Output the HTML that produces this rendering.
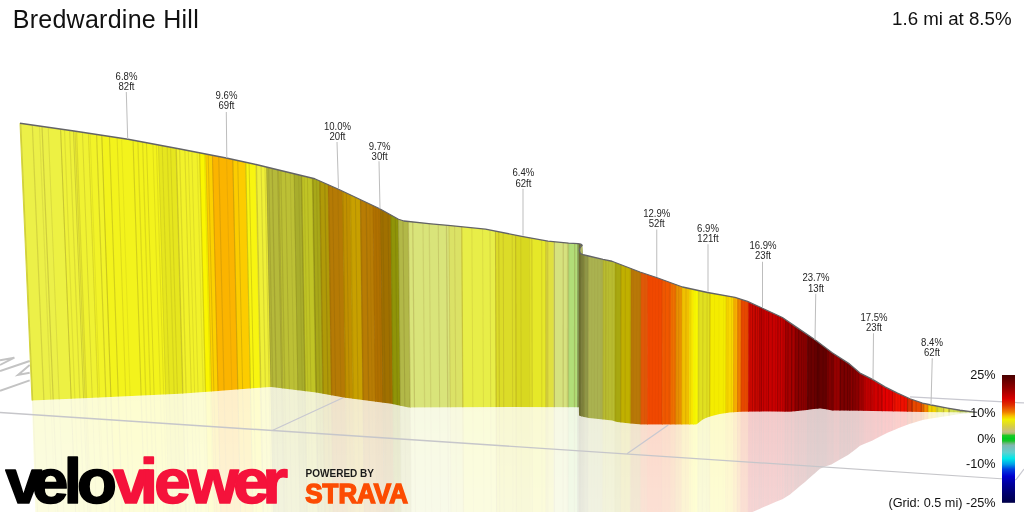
<!DOCTYPE html>
<html lang="en"><head><meta charset="utf-8"><title>Bredwardine Hill</title>
<style>
html,body{margin:0;padding:0;background:#fff;}
body{width:1024px;height:512px;overflow:hidden;font-family:"Liberation Sans",sans-serif;}
svg{display:block;}
text{font-family:"Liberation Sans",sans-serif;}
.lab{font-size:10.3px;fill:#262626;text-anchor:middle;}
.leg{font-size:12.7px;fill:#111;text-anchor:end;}
</style></head><body>
<svg width="1024" height="512" viewBox="0 0 1024 512">
<defs>
<clipPath id="cp"><polygon points="20.00,123.25 74.00,131.00 128.00,139.25 180.00,149.00 226.25,158.00 256.00,164.50 314.75,178.75 338.50,189.25 379.75,208.75 398.50,219.25 404.00,221.00 431.00,223.80 448.00,225.30 485.50,229.20 523.00,236.60 548.00,241.20 568.60,243.10 578.00,243.60 581.00,244.20 582.20,245.20 582.80,254.50 583.00,254.60 588.60,256.00 603.00,259.40 612.00,261.25 640.00,272.00 656.50,277.50 682.50,287.00 707.50,292.50 735.00,297.30 747.50,301.40 762.00,308.00 782.40,317.50 796.00,326.90 815.00,339.80 832.20,352.70 849.40,363.90 860.00,373.10 872.50,379.40 885.00,386.90 897.50,393.10 910.00,398.75 922.50,403.10 931.25,405.00 947.50,408.10 960.00,410.25 972.50,411.90 977.00,412.40 977.00,412.40 922.00,411.90 860.00,410.80 832.00,410.40 826.00,409.30 820.00,408.40 814.00,409.00 805.00,410.20 790.00,411.70 768.00,411.50 741.00,411.70 730.00,412.60 720.00,414.10 710.00,416.60 706.00,418.00 702.50,419.75 699.00,422.60 696.30,424.50 642.00,424.50 630.00,423.60 617.00,422.00 612.00,420.40 603.00,419.50 588.60,418.00 583.00,416.70 581.00,416.20 579.00,415.40 578.90,407.30 512.00,407.00 408.50,407.50 391.00,403.75 343.50,397.50 316.00,392.50 271.00,387.00 256.00,388.00 215.00,391.25 180.00,393.75 100.00,397.50 32.00,400.50"/></clipPath>
<clipPath id="cr"><polygon points="32.00,400.50 100.00,397.50 180.00,393.75 215.00,391.25 256.00,388.00 271.00,387.00 316.00,392.50 343.50,397.50 391.00,403.75 408.50,407.50 512.00,407.00 578.90,407.30 579.00,415.40 581.00,416.20 583.00,416.70 588.60,418.00 603.00,419.50 612.00,420.40 617.00,422.00 630.00,423.60 642.00,424.50 696.30,424.50 699.00,422.60 702.50,419.75 706.00,418.00 710.00,416.60 720.00,414.10 730.00,412.60 741.00,411.70 768.00,411.50 790.00,411.70 805.00,410.20 814.00,409.00 820.00,408.40 826.00,409.30 832.00,410.40 860.00,410.80 922.00,411.90 977.00,412.40 977.00,412.40 976.00,412.49 972.50,412.79 968.00,413.26 960.00,414.10 952.00,415.24 947.50,415.88 944.00,416.44 936.00,417.72 931.25,418.48 928.00,419.08 922.50,420.09 922.00,420.25 920.00,420.82 912.00,423.14 910.00,423.72 904.00,426.04 897.50,428.55 896.00,429.19 888.00,432.60 885.00,433.88 880.00,436.50 872.50,440.43 872.00,440.65 864.00,444.12 860.00,445.86 856.00,448.98 849.40,454.12 848.00,454.93 840.00,459.56 832.20,464.07 832.00,464.20 826.00,466.26 824.00,467.08 820.00,468.71 816.00,472.27 815.00,473.16 814.00,473.99 808.00,479.32 805.00,481.99 800.00,486.11 796.00,489.41 792.00,492.75 790.00,494.42 784.00,498.17 782.40,499.17 776.00,501.83 768.00,505.16 762.00,507.84 760.00,508.72 752.00,512.22 747.50,514.19 744.00,515.30 741.00,516.26 736.00,518.58 735.00,519.04 730.00,520.64 728.00,521.54 720.00,525.16 712.00,530.32 710.00,531.61 707.50,533.70 706.00,535.02 704.00,537.36 702.50,539.12 699.00,545.33 696.30,549.55 696.00,549.61 688.00,551.25 682.50,552.38 680.00,553.22 672.00,555.94 664.00,558.66 656.50,561.21 656.00,561.37 648.00,563.85 642.00,565.70 640.00,566.04 632.00,567.73 630.00,568.16 624.00,568.88 617.00,569.71 616.00,569.45 612.00,568.41 608.00,568.40 603.00,568.39 600.00,568.45 592.00,568.60 588.60,568.66 584.00,567.67 583.00,567.45 581.50,567.29 581.00,567.86 579.50,569.14 579.40,575.11 579.00,574.91 578.90,559.30 578.00,559.53 576.00,559.61 568.60,559.92 568.00,559.96 560.00,560.58 552.00,561.20 548.00,561.51 544.00,562.16 536.00,563.46 528.00,564.75 523.00,565.57 520.00,566.09 512.00,567.49 504.00,569.03 496.00,570.58 488.00,572.12 485.50,572.60 480.00,573.18 472.00,574.03 464.00,574.88 456.00,575.73 448.00,576.58 440.00,577.31 432.00,578.04 431.00,578.13 424.00,578.87 416.00,579.72 408.50,580.51 408.00,580.35 404.00,579.08 400.00,578.61 398.50,578.44 392.00,579.13 391.00,579.24 384.00,581.11 379.75,582.24 376.00,582.94 368.00,584.42 360.00,585.91 352.00,587.40 344.00,588.88 343.50,588.97 338.50,589.42 336.00,589.57 328.00,590.05 320.00,590.53 316.00,590.77 314.75,590.99 312.00,590.96 304.00,590.88 296.00,590.80 288.00,590.72 280.00,590.63 272.00,590.55 271.00,590.54 264.00,593.02 256.00,595.86 248.00,598.70 240.00,601.55 232.00,604.40 226.25,606.45 224.00,607.20 216.00,609.87 215.00,610.21 208.00,612.44 200.00,614.99 192.00,617.54 184.00,620.09 180.00,621.37 176.00,622.43 168.00,624.55 160.00,626.66 152.00,628.78 144.00,630.90 136.00,633.02 128.00,635.14 120.00,637.00 112.00,638.86 104.00,640.72 100.00,641.65 96.00,642.56 88.00,644.38 80.00,646.20 74.00,647.56 72.00,648.00 64.00,649.75 56.00,651.49 48.00,653.24 40.00,654.99 40.33,678.00"/></clipPath>
<linearGradient id="lg" x1="0" y1="0" x2="0" y2="1">
<stop offset="0" stop-color="#480000"/>
<stop offset="0.10" stop-color="#900000"/>
<stop offset="0.186" stop-color="#d80000"/>
<stop offset="0.235" stop-color="#e03000"/>
<stop offset="0.291" stop-color="#f08000"/>
<stop offset="0.32" stop-color="#f8c000"/>
<stop offset="0.348" stop-color="#f0f000"/>
<stop offset="0.40" stop-color="#d8d040"/>
<stop offset="0.445" stop-color="#c4bc88"/>
<stop offset="0.46" stop-color="#a0c060"/>
<stop offset="0.472" stop-color="#20c828"/>
<stop offset="0.497" stop-color="#00cc20"/>
<stop offset="0.516" stop-color="#18c428"/>
<stop offset="0.532" stop-color="#60b870"/>
<stop offset="0.55" stop-color="#80b8b0"/>
<stop offset="0.605" stop-color="#60d0d0"/>
<stop offset="0.654" stop-color="#00e8e8"/>
<stop offset="0.698" stop-color="#00a0e8"/>
<stop offset="0.737" stop-color="#0040e0"/>
<stop offset="0.792" stop-color="#0000d0"/>
<stop offset="0.847" stop-color="#0000a0"/>
<stop offset="0.923" stop-color="#000070"/>
<stop offset="1" stop-color="#000048"/>
</linearGradient>
<linearGradient id="fade" x1="0" y1="400" x2="0" y2="512" gradientUnits="userSpaceOnUse">
<stop offset="0" stop-color="#fff" stop-opacity="0.21"/>
<stop offset="1" stop-color="#fff" stop-opacity="0.17"/>
</linearGradient>
<mask id="mk" maskUnits="userSpaceOnUse" x="0" y="380" width="1024" height="140"><rect x="0" y="380" width="1024" height="140" fill="url(#fade)"/></mask>
<g id="bands">
<polygon points="7.71,100.00 47.41,100.00 64.35,520.00 26.36,520.00" fill="#ecf048"/>
<polygon points="46.80,100.00 59.76,100.00 76.16,520.00 63.76,520.00" fill="#edf143"/>
<polygon points="59.14,100.00 74.15,100.00 89.94,520.00 75.57,520.00" fill="#eff23a"/>
<polygon points="73.54,100.00 87.52,100.00 102.73,520.00 89.35,520.00" fill="#f0f232"/>
<polygon points="86.91,100.00 100.89,100.00 115.53,520.00 102.14,520.00" fill="#f2f328"/>
<polygon points="100.28,100.00 157.46,100.00 169.66,520.00 114.94,520.00" fill="#f3f31c"/>
<polygon points="156.84,100.00 174.94,100.00 186.39,520.00 169.07,520.00" fill="#e6e61e"/>
<polygon points="174.32,100.00 198.60,100.00 209.02,520.00 185.80,520.00" fill="#f2f22a"/>
<polygon points="197.98,100.00 204.77,100.00 214.93,520.00 208.43,520.00" fill="#fbf600"/>
<polygon points="204.15,100.00 211.45,100.00 221.33,520.00 214.34,520.00" fill="#fcd000"/>
<polygon points="210.83,100.00 231.92,100.00 241.07,520.00 220.74,520.00" fill="#fbb400"/>
<polygon points="231.30,100.00 244.71,100.00 253.41,520.00 240.48,520.00" fill="#fccc00"/>
<polygon points="244.09,100.00 254.94,100.00 263.28,520.00 252.81,520.00" fill="#f8f510"/>
<polygon points="254.33,100.00 265.68,100.00 273.64,520.00 262.68,520.00" fill="#eff038"/>
<polygon points="265.07,100.00 277.90,100.00 285.52,520.00 273.05,520.00" fill="#b5b93a"/>
<polygon points="277.29,100.00 293.16,100.00 300.38,520.00 284.93,520.00" fill="#bcc035"/>
<polygon points="292.55,100.00 300.79,100.00 307.80,520.00 299.78,520.00" fill="#a8ad2c"/>
<polygon points="300.18,100.00 311.99,100.00 318.69,520.00 307.21,520.00" fill="#c0c425"/>
<polygon points="311.38,100.00 318.60,100.00 325.13,520.00 318.10,520.00" fill="#a8a818"/>
<polygon points="317.99,100.00 327.26,100.00 333.55,520.00 324.54,520.00" fill="#b09a08"/>
<polygon points="326.64,100.00 341.50,100.00 347.41,520.00 332.95,520.00" fill="#b57a05"/>
<polygon points="340.89,100.00 349.14,100.00 354.84,520.00 346.82,520.00" fill="#c09000"/>
<polygon points="348.53,100.00 359.31,100.00 364.74,520.00 354.24,520.00" fill="#c8a000"/>
<polygon points="358.70,100.00 372.03,100.00 377.11,520.00 364.14,520.00" fill="#b87c04"/>
<polygon points="371.42,100.00 379.67,100.00 384.54,520.00 376.52,520.00" fill="#b07000"/>
<polygon points="379.06,100.00 389.84,100.00 394.44,520.00 383.95,520.00" fill="#a07000"/>
<polygon points="389.23,100.00 397.48,100.00 401.87,520.00 393.85,520.00" fill="#8f9408"/>
<polygon points="396.87,100.00 407.67,100.00 411.76,520.00 401.27,520.00" fill="#b2b848"/>
<polygon points="407.06,100.00 448.40,100.00 451.35,520.00 411.17,520.00" fill="#d9e47a"/>
<polygon points="447.79,100.00 461.13,100.00 463.73,520.00 450.76,520.00" fill="#dbe266"/>
<polygon points="460.52,100.00 495.25,100.00 496.88,520.00 463.13,520.00" fill="#e8ee48"/>
<polygon points="494.64,100.00 515.62,100.00 516.68,520.00 496.29,520.00" fill="#dcdc28"/>
<polygon points="515.01,100.00 529.88,100.00 530.54,520.00 516.08,520.00" fill="#d8d820"/>
<polygon points="529.26,100.00 546.17,100.00 546.37,520.00 529.94,520.00" fill="#e6e828"/>
<polygon points="545.56,100.00 554.32,100.00 554.29,520.00 545.78,520.00" fill="#e0e040"/>
<polygon points="553.71,100.00 569.07,100.00 568.65,520.00 553.70,520.00" fill="#d6e27e"/>
<polygon points="568.47,100.00 578.10,100.00 577.63,520.00 568.05,520.00" fill="#b2de78"/>
<polygon points="577.50,100.00 579.60,100.00 579.13,520.00 577.03,520.00" fill="#88a860"/>
<polygon points="579.00,100.00 582.11,100.00 581.63,520.00 578.53,520.00" fill="#707434"/>
<polygon points="581.51,100.00 584.62,100.00 584.12,520.00 581.03,520.00" fill="#7c803a"/>
<polygon points="584.02,100.00 589.13,100.00 588.62,520.00 583.52,520.00" fill="#909848"/>
<polygon points="588.53,100.00 603.67,100.00 603.09,520.00 588.02,520.00" fill="#aab250"/>
<polygon points="603.07,100.00 615.71,100.00 615.07,520.00 602.49,520.00" fill="#b8bc30"/>
<polygon points="615.11,100.00 621.73,100.00 621.06,520.00 614.47,520.00" fill="#a8a810"/>
<polygon points="621.13,100.00 631.76,100.00 631.05,520.00 620.46,520.00" fill="#c0b000"/>
<polygon points="631.16,100.00 641.79,100.00 641.03,520.00 630.45,520.00" fill="#b87808"/>
<polygon points="641.19,100.00 648.31,100.00 647.52,520.00 640.43,520.00" fill="#e05808"/>
<polygon points="647.70,100.00 663.35,100.00 662.49,520.00 646.92,520.00" fill="#f04800"/>
<polygon points="662.75,100.00 671.88,100.00 670.98,520.00 661.89,520.00" fill="#f05800"/>
<polygon points="671.27,100.00 676.89,100.00 675.97,520.00 670.38,520.00" fill="#f07000"/>
<polygon points="676.29,100.00 682.91,100.00 681.96,520.00 675.37,520.00" fill="#e89000"/>
<polygon points="682.31,100.00 690.43,100.00 689.45,520.00 681.36,520.00" fill="#f0c000"/>
<polygon points="689.83,100.00 694.44,100.00 693.44,520.00 688.85,520.00" fill="#f8e800"/>
<polygon points="693.84,100.00 698.96,100.00 697.94,520.00 692.84,520.00" fill="#f8f800"/>
<polygon points="698.35,100.00 710.99,100.00 709.92,520.00 697.34,520.00" fill="#e0e020"/>
<polygon points="710.39,100.00 727.04,100.00 725.89,520.00 709.32,520.00" fill="#f4ec00"/>
<polygon points="726.44,100.00 734.56,100.00 733.38,520.00 725.29,520.00" fill="#f8d800"/>
<polygon points="733.96,100.00 738.57,100.00 737.37,520.00 732.78,520.00" fill="#f8b000"/>
<polygon points="737.97,100.00 742.08,100.00 740.86,520.00 736.77,520.00" fill="#f08000"/>
<polygon points="741.48,100.00 749.61,100.00 748.35,520.00 740.27,520.00" fill="#e84800"/>
<polygon points="749.00,100.00 761.13,100.00 759.84,520.00 747.75,520.00" fill="#d00800"/>
<polygon points="760.53,100.00 786.19,100.00 784.81,520.00 759.24,520.00" fill="#c80000"/>
<polygon points="785.58,100.00 796.21,100.00 794.80,520.00 784.21,520.00" fill="#a80000"/>
<polygon points="795.61,100.00 808.73,100.00 807.28,520.00 794.20,520.00" fill="#8c0000"/>
<polygon points="808.13,100.00 819.26,100.00 817.77,520.00 806.68,520.00" fill="#6c0000"/>
<polygon points="818.66,100.00 828.28,100.00 826.76,520.00 817.17,520.00" fill="#640000"/>
<polygon points="827.68,100.00 834.29,100.00 832.75,520.00 826.16,520.00" fill="#800000"/>
<polygon points="833.69,100.00 841.31,100.00 839.74,520.00 832.15,520.00" fill="#960000"/>
<polygon points="840.70,100.00 851.33,100.00 849.73,520.00 839.14,520.00" fill="#7c0000"/>
<polygon points="850.73,100.00 860.35,100.00 858.72,520.00 849.13,520.00" fill="#8a0000"/>
<polygon points="859.74,100.00 865.36,100.00 863.71,520.00 858.12,520.00" fill="#a00000"/>
<polygon points="864.76,100.00 873.88,100.00 872.20,520.00 863.11,520.00" fill="#c00000"/>
<polygon points="873.27,100.00 883.90,100.00 882.19,520.00 871.60,520.00" fill="#d00000"/>
<polygon points="883.30,100.00 895.17,100.00 893.43,520.00 881.59,520.00" fill="#e40000"/>
<polygon points="894.57,100.00 908.95,100.00 907.16,520.00 892.83,520.00" fill="#f01000"/>
<polygon points="908.35,100.00 913.96,100.00 912.15,520.00 906.56,520.00" fill="#d83000"/>
<polygon points="913.36,100.00 922.98,100.00 921.14,520.00 911.56,520.00" fill="#e84800"/>
<polygon points="922.38,100.00 925.49,100.00 923.64,520.00 920.54,520.00" fill="#e86000"/>
<polygon points="924.89,100.00 930.00,100.00 928.14,520.00 923.04,520.00" fill="#f88800"/>
<polygon points="929.39,100.00 938.01,100.00 936.13,520.00 927.54,520.00" fill="#f0d000"/>
<polygon points="937.41,100.00 944.03,100.00 942.12,520.00 935.53,520.00" fill="#d8dc30"/>
<polygon points="943.43,100.00 950.54,100.00 948.61,520.00 941.52,520.00" fill="#e8e840"/>
<polygon points="949.94,100.00 961.81,100.00 959.85,520.00 948.01,520.00" fill="#d0dc50"/>
<polygon points="961.21,100.00 991.63,100.00 989.56,520.00 959.25,520.00" fill="#b4c850"/>
<line x1="19.76" y1="100.0" x2="37.88" y2="520.0" stroke="#6a5a20" stroke-opacity="0.22" stroke-width="1.04"/>
<line x1="31.29" y1="100.0" x2="48.92" y2="520.0" stroke="#6a5a20" stroke-opacity="0.19" stroke-width="1.20"/>
<line x1="38.37" y1="100.0" x2="55.69" y2="520.0" stroke="#6a5a20" stroke-opacity="0.11" stroke-width="1.13"/>
<line x1="40.93" y1="100.0" x2="58.14" y2="520.0" stroke="#6a5a20" stroke-opacity="0.23" stroke-width="1.19"/>
<line x1="59.49" y1="100.0" x2="75.90" y2="520.0" stroke="#6a5a20" stroke-opacity="0.21" stroke-width="1.04"/>
<line x1="63.33" y1="100.0" x2="79.58" y2="520.0" stroke="#6a5a20" stroke-opacity="0.12" stroke-width="1.19"/>
<line x1="68.46" y1="100.0" x2="84.49" y2="520.0" stroke="#6a5a20" stroke-opacity="0.15" stroke-width="1.20"/>
<line x1="72.30" y1="100.0" x2="88.17" y2="520.0" stroke="#6a5a20" stroke-opacity="0.24" stroke-width="1.00"/>
<line x1="75.38" y1="100.0" x2="91.11" y2="520.0" stroke="#6a5a20" stroke-opacity="0.16" stroke-width="1.27"/>
<line x1="81.27" y1="100.0" x2="96.75" y2="520.0" stroke="#6a5a20" stroke-opacity="0.20" stroke-width="0.89"/>
<line x1="88.96" y1="100.0" x2="104.11" y2="520.0" stroke="#6a5a20" stroke-opacity="0.12" stroke-width="0.88"/>
<line x1="95.37" y1="100.0" x2="110.24" y2="520.0" stroke="#6a5a20" stroke-opacity="0.23" stroke-width="1.20"/>
<line x1="100.50" y1="100.0" x2="115.15" y2="520.0" stroke="#6a5a20" stroke-opacity="0.12" stroke-width="1.21"/>
<line x1="108.19" y1="100.0" x2="122.50" y2="520.0" stroke="#6a5a20" stroke-opacity="0.24" stroke-width="1.13"/>
<line x1="115.87" y1="100.0" x2="129.86" y2="520.0" stroke="#6a5a20" stroke-opacity="0.15" stroke-width="1.07"/>
<line x1="120.39" y1="100.0" x2="134.18" y2="520.0" stroke="#6a5a20" stroke-opacity="0.12" stroke-width="0.81"/>
<line x1="131.77" y1="100.0" x2="145.07" y2="520.0" stroke="#6a5a20" stroke-opacity="0.24" stroke-width="1.12"/>
<line x1="136.58" y1="100.0" x2="149.68" y2="520.0" stroke="#6a5a20" stroke-opacity="0.17" stroke-width="1.27"/>
<line x1="141.33" y1="100.0" x2="154.22" y2="520.0" stroke="#6a5a20" stroke-opacity="0.16" stroke-width="1.24"/>
<line x1="145.19" y1="100.0" x2="157.92" y2="520.0" stroke="#6a5a20" stroke-opacity="0.22" stroke-width="0.91"/>
<line x1="151.62" y1="100.0" x2="164.07" y2="520.0" stroke="#6a5a20" stroke-opacity="0.14" stroke-width="0.95"/>
<line x1="155.08" y1="100.0" x2="167.38" y2="520.0" stroke="#6a5a20" stroke-opacity="0.13" stroke-width="1.09"/>
<line x1="160.92" y1="100.0" x2="172.97" y2="520.0" stroke="#6a5a20" stroke-opacity="0.14" stroke-width="1.01"/>
<line x1="165.89" y1="100.0" x2="177.73" y2="520.0" stroke="#6a5a20" stroke-opacity="0.12" stroke-width="1.26"/>
<line x1="169.27" y1="100.0" x2="180.96" y2="520.0" stroke="#6a5a20" stroke-opacity="0.15" stroke-width="1.03"/>
<line x1="174.97" y1="100.0" x2="186.41" y2="520.0" stroke="#6a5a20" stroke-opacity="0.18" stroke-width="1.25"/>
<line x1="178.25" y1="100.0" x2="189.55" y2="520.0" stroke="#6a5a20" stroke-opacity="0.16" stroke-width="1.26"/>
<line x1="183.56" y1="100.0" x2="194.64" y2="520.0" stroke="#6a5a20" stroke-opacity="0.17" stroke-width="1.07"/>
<line x1="187.00" y1="100.0" x2="197.93" y2="520.0" stroke="#6a5a20" stroke-opacity="0.17" stroke-width="0.81"/>
<line x1="190.56" y1="100.0" x2="201.33" y2="520.0" stroke="#6a5a20" stroke-opacity="0.16" stroke-width="0.89"/>
<line x1="195.83" y1="100.0" x2="206.37" y2="520.0" stroke="#6a5a20" stroke-opacity="0.10" stroke-width="1.20"/>
<line x1="203.16" y1="100.0" x2="213.40" y2="520.0" stroke="#6a5a20" stroke-opacity="0.12" stroke-width="1.04"/>
<line x1="206.88" y1="100.0" x2="216.96" y2="520.0" stroke="#6a5a20" stroke-opacity="0.20" stroke-width="1.08"/>
<line x1="211.12" y1="100.0" x2="221.01" y2="520.0" stroke="#6a5a20" stroke-opacity="0.15" stroke-width="1.06"/>
<line x1="217.40" y1="100.0" x2="227.07" y2="520.0" stroke="#6a5a20" stroke-opacity="0.18" stroke-width="1.19"/>
<line x1="225.32" y1="100.0" x2="234.70" y2="520.0" stroke="#6a5a20" stroke-opacity="0.11" stroke-width="1.08"/>
<line x1="231.34" y1="100.0" x2="240.51" y2="520.0" stroke="#6a5a20" stroke-opacity="0.13" stroke-width="0.94"/>
<line x1="236.44" y1="100.0" x2="245.43" y2="520.0" stroke="#6a5a20" stroke-opacity="0.21" stroke-width="1.05"/>
<line x1="244.51" y1="100.0" x2="253.21" y2="520.0" stroke="#6a5a20" stroke-opacity="0.18" stroke-width="1.18"/>
<line x1="247.81" y1="100.0" x2="256.40" y2="520.0" stroke="#6a5a20" stroke-opacity="0.23" stroke-width="1.02"/>
<line x1="255.28" y1="100.0" x2="263.60" y2="520.0" stroke="#6a5a20" stroke-opacity="0.19" stroke-width="1.05"/>
<line x1="259.83" y1="100.0" x2="267.99" y2="520.0" stroke="#6a5a20" stroke-opacity="0.17" stroke-width="1.15"/>
<line x1="263.64" y1="100.0" x2="271.66" y2="520.0" stroke="#6a5a20" stroke-opacity="0.16" stroke-width="1.07"/>
<line x1="267.30" y1="100.0" x2="275.21" y2="520.0" stroke="#5a4a10" stroke-opacity="0.15" stroke-width="1.27"/>
<line x1="270.94" y1="100.0" x2="278.76" y2="520.0" stroke="#5a4a10" stroke-opacity="0.18" stroke-width="1.24"/>
<line x1="276.39" y1="100.0" x2="284.06" y2="520.0" stroke="#5a4a10" stroke-opacity="0.21" stroke-width="0.93"/>
<line x1="279.58" y1="100.0" x2="287.16" y2="520.0" stroke="#5a4a10" stroke-opacity="0.16" stroke-width="1.27"/>
<line x1="284.20" y1="100.0" x2="291.65" y2="520.0" stroke="#5a4a10" stroke-opacity="0.20" stroke-width="0.87"/>
<line x1="289.02" y1="100.0" x2="296.34" y2="520.0" stroke="#5a4a10" stroke-opacity="0.10" stroke-width="1.02"/>
<line x1="292.89" y1="100.0" x2="300.11" y2="520.0" stroke="#5a4a10" stroke-opacity="0.09" stroke-width="0.92"/>
<line x1="297.38" y1="100.0" x2="304.48" y2="520.0" stroke="#5a4a10" stroke-opacity="0.09" stroke-width="1.13"/>
<line x1="300.15" y1="100.0" x2="307.18" y2="520.0" stroke="#5a4a10" stroke-opacity="0.19" stroke-width="1.25"/>
<line x1="302.91" y1="100.0" x2="309.86" y2="520.0" stroke="#5a4a10" stroke-opacity="0.10" stroke-width="1.16"/>
<line x1="306.18" y1="100.0" x2="313.05" y2="520.0" stroke="#5a4a10" stroke-opacity="0.17" stroke-width="0.87"/>
<line x1="311.15" y1="100.0" x2="317.88" y2="520.0" stroke="#5a4a10" stroke-opacity="0.20" stroke-width="1.28"/>
<line x1="315.22" y1="100.0" x2="321.84" y2="520.0" stroke="#5a4a10" stroke-opacity="0.11" stroke-width="1.28"/>
<line x1="318.88" y1="100.0" x2="325.40" y2="520.0" stroke="#5a4a10" stroke-opacity="0.14" stroke-width="1.04"/>
<line x1="323.51" y1="100.0" x2="329.91" y2="520.0" stroke="#5a4a10" stroke-opacity="0.22" stroke-width="1.22"/>
<line x1="327.67" y1="100.0" x2="333.95" y2="520.0" stroke="#5a4a10" stroke-opacity="0.10" stroke-width="1.02"/>
<line x1="331.28" y1="100.0" x2="337.47" y2="520.0" stroke="#5a4a10" stroke-opacity="0.15" stroke-width="0.97"/>
<line x1="336.66" y1="100.0" x2="342.69" y2="520.0" stroke="#5a4a10" stroke-opacity="0.11" stroke-width="0.96"/>
<line x1="341.69" y1="100.0" x2="347.59" y2="520.0" stroke="#5a4a10" stroke-opacity="0.18" stroke-width="0.81"/>
<line x1="345.10" y1="100.0" x2="350.91" y2="520.0" stroke="#5a4a10" stroke-opacity="0.16" stroke-width="1.02"/>
<line x1="349.70" y1="100.0" x2="355.38" y2="520.0" stroke="#5a4a10" stroke-opacity="0.08" stroke-width="0.97"/>
<line x1="354.11" y1="100.0" x2="359.68" y2="520.0" stroke="#5a4a10" stroke-opacity="0.17" stroke-width="1.06"/>
<line x1="359.77" y1="100.0" x2="365.18" y2="520.0" stroke="#5a4a10" stroke-opacity="0.09" stroke-width="1.29"/>
<line x1="364.91" y1="100.0" x2="370.19" y2="520.0" stroke="#5a4a10" stroke-opacity="0.19" stroke-width="1.29"/>
<line x1="368.48" y1="100.0" x2="373.66" y2="520.0" stroke="#5a4a10" stroke-opacity="0.09" stroke-width="0.93"/>
<line x1="374.52" y1="100.0" x2="379.53" y2="520.0" stroke="#5a4a10" stroke-opacity="0.09" stroke-width="1.19"/>
<line x1="377.48" y1="100.0" x2="382.42" y2="520.0" stroke="#5a4a10" stroke-opacity="0.12" stroke-width="0.86"/>
<line x1="381.52" y1="100.0" x2="386.34" y2="520.0" stroke="#5a4a10" stroke-opacity="0.14" stroke-width="1.26"/>
<line x1="386.76" y1="100.0" x2="391.44" y2="520.0" stroke="#5a4a10" stroke-opacity="0.19" stroke-width="0.93"/>
<line x1="389.85" y1="100.0" x2="394.44" y2="520.0" stroke="#5a4a10" stroke-opacity="0.10" stroke-width="1.26"/>
<line x1="394.13" y1="100.0" x2="398.61" y2="520.0" stroke="#5a4a10" stroke-opacity="0.16" stroke-width="1.15"/>
<line x1="396.82" y1="100.0" x2="401.22" y2="520.0" stroke="#5a4a10" stroke-opacity="0.09" stroke-width="0.83"/>
<line x1="401.75" y1="100.0" x2="406.01" y2="520.0" stroke="#5a4a10" stroke-opacity="0.18" stroke-width="1.01"/>
<line x1="407.02" y1="100.0" x2="411.13" y2="520.0" stroke="#5a4a10" stroke-opacity="0.09" stroke-width="1.27"/>
<line x1="411.61" y1="100.0" x2="415.59" y2="520.0" stroke="#7a5a20" stroke-opacity="0.22" stroke-width="1.20"/>
<line x1="421.92" y1="100.0" x2="425.62" y2="520.0" stroke="#7a5a20" stroke-opacity="0.13" stroke-width="1.23"/>
<line x1="428.23" y1="100.0" x2="431.75" y2="520.0" stroke="#7a5a20" stroke-opacity="0.13" stroke-width="1.23"/>
<line x1="437.26" y1="100.0" x2="440.53" y2="520.0" stroke="#7a5a20" stroke-opacity="0.19" stroke-width="0.97"/>
<line x1="445.57" y1="100.0" x2="448.60" y2="520.0" stroke="#7a5a20" stroke-opacity="0.21" stroke-width="1.26"/>
<line x1="453.78" y1="100.0" x2="456.58" y2="520.0" stroke="#7a5a20" stroke-opacity="0.16" stroke-width="0.86"/>
<line x1="461.11" y1="100.0" x2="463.70" y2="520.0" stroke="#7a5a20" stroke-opacity="0.20" stroke-width="0.92"/>
<line x1="471.17" y1="100.0" x2="473.48" y2="520.0" stroke="#7a5a20" stroke-opacity="0.14" stroke-width="0.88"/>
<line x1="481.98" y1="100.0" x2="483.98" y2="520.0" stroke="#7a5a20" stroke-opacity="0.13" stroke-width="0.90"/>
<line x1="489.43" y1="100.0" x2="491.23" y2="520.0" stroke="#7a5a20" stroke-opacity="0.17" stroke-width="0.95"/>
<line x1="498.24" y1="100.0" x2="499.79" y2="520.0" stroke="#7a5a20" stroke-opacity="0.24" stroke-width="0.94"/>
<line x1="502.75" y1="100.0" x2="504.17" y2="520.0" stroke="#7a5a20" stroke-opacity="0.20" stroke-width="0.89"/>
<line x1="511.82" y1="100.0" x2="512.99" y2="520.0" stroke="#7a5a20" stroke-opacity="0.18" stroke-width="0.81"/>
<line x1="520.51" y1="100.0" x2="521.43" y2="520.0" stroke="#7a5a20" stroke-opacity="0.16" stroke-width="0.81"/>
<line x1="531.66" y1="100.0" x2="532.27" y2="520.0" stroke="#7a5a20" stroke-opacity="0.24" stroke-width="1.08"/>
<line x1="541.59" y1="100.0" x2="541.92" y2="520.0" stroke="#7a5a20" stroke-opacity="0.15" stroke-width="1.04"/>
<line x1="547.70" y1="100.0" x2="547.85" y2="520.0" stroke="#7a5a20" stroke-opacity="0.27" stroke-width="0.85"/>
<line x1="554.52" y1="100.0" x2="554.49" y2="520.0" stroke="#7a5a20" stroke-opacity="0.25" stroke-width="1.02"/>
<line x1="563.36" y1="100.0" x2="563.08" y2="520.0" stroke="#7a5a20" stroke-opacity="0.20" stroke-width="1.22"/>
<line x1="567.59" y1="100.0" x2="567.19" y2="520.0" stroke="#7a5a20" stroke-opacity="0.18" stroke-width="1.05"/>
<line x1="574.86" y1="100.0" x2="574.41" y2="520.0" stroke="#7a5a20" stroke-opacity="0.23" stroke-width="1.29"/>
<line x1="580.05" y1="100.0" x2="579.58" y2="520.0" stroke="#6a3a10" stroke-opacity="0.06" stroke-width="1.22"/>
<line x1="584.88" y1="100.0" x2="584.39" y2="520.0" stroke="#6a3a10" stroke-opacity="0.10" stroke-width="1.12"/>
<line x1="587.54" y1="100.0" x2="587.03" y2="520.0" stroke="#6a3a10" stroke-opacity="0.07" stroke-width="0.97"/>
<line x1="591.97" y1="100.0" x2="591.44" y2="520.0" stroke="#6a3a10" stroke-opacity="0.04" stroke-width="0.86"/>
<line x1="594.80" y1="100.0" x2="594.26" y2="520.0" stroke="#6a3a10" stroke-opacity="0.04" stroke-width="1.17"/>
<line x1="597.93" y1="100.0" x2="597.38" y2="520.0" stroke="#6a3a10" stroke-opacity="0.06" stroke-width="0.88"/>
<line x1="601.42" y1="100.0" x2="600.85" y2="520.0" stroke="#6a3a10" stroke-opacity="0.04" stroke-width="1.22"/>
<line x1="606.11" y1="100.0" x2="605.52" y2="520.0" stroke="#6a3a10" stroke-opacity="0.12" stroke-width="1.14"/>
<line x1="608.82" y1="100.0" x2="608.22" y2="520.0" stroke="#6a3a10" stroke-opacity="0.06" stroke-width="0.92"/>
<line x1="612.46" y1="100.0" x2="611.83" y2="520.0" stroke="#6a3a10" stroke-opacity="0.06" stroke-width="1.03"/>
<line x1="616.34" y1="100.0" x2="615.70" y2="520.0" stroke="#6a3a10" stroke-opacity="0.05" stroke-width="1.02"/>
<line x1="621.06" y1="100.0" x2="620.40" y2="520.0" stroke="#6a3a10" stroke-opacity="0.06" stroke-width="1.28"/>
<line x1="625.62" y1="100.0" x2="624.94" y2="520.0" stroke="#6a3a10" stroke-opacity="0.13" stroke-width="1.07"/>
<line x1="630.30" y1="100.0" x2="629.59" y2="520.0" stroke="#6a3a10" stroke-opacity="0.05" stroke-width="1.28"/>
<line x1="633.50" y1="100.0" x2="632.78" y2="520.0" stroke="#6a3a10" stroke-opacity="0.06" stroke-width="0.98"/>
<line x1="637.05" y1="100.0" x2="636.32" y2="520.0" stroke="#6a3a10" stroke-opacity="0.03" stroke-width="0.99"/>
<line x1="640.46" y1="100.0" x2="639.71" y2="520.0" stroke="#6a3a10" stroke-opacity="0.08" stroke-width="1.05"/>
<line x1="645.18" y1="100.0" x2="644.41" y2="520.0" stroke="#6a3a10" stroke-opacity="0.05" stroke-width="1.05"/>
<line x1="650.09" y1="100.0" x2="649.30" y2="520.0" stroke="#6a3a10" stroke-opacity="0.03" stroke-width="0.93"/>
<line x1="652.98" y1="100.0" x2="652.17" y2="520.0" stroke="#6a3a10" stroke-opacity="0.04" stroke-width="1.00"/>
<line x1="655.93" y1="100.0" x2="655.10" y2="520.0" stroke="#6a3a10" stroke-opacity="0.03" stroke-width="0.81"/>
<line x1="659.02" y1="100.0" x2="658.18" y2="520.0" stroke="#6a3a10" stroke-opacity="0.06" stroke-width="0.92"/>
<line x1="662.11" y1="100.0" x2="661.26" y2="520.0" stroke="#6a3a10" stroke-opacity="0.09" stroke-width="1.06"/>
<line x1="665.83" y1="100.0" x2="664.96" y2="520.0" stroke="#6a3a10" stroke-opacity="0.11" stroke-width="1.13"/>
<line x1="669.82" y1="100.0" x2="668.93" y2="520.0" stroke="#6a3a10" stroke-opacity="0.10" stroke-width="1.24"/>
<line x1="672.98" y1="100.0" x2="672.08" y2="520.0" stroke="#6a3a10" stroke-opacity="0.07" stroke-width="0.96"/>
<line x1="675.50" y1="100.0" x2="674.59" y2="520.0" stroke="#6a3a10" stroke-opacity="0.13" stroke-width="0.87"/>
<line x1="679.06" y1="100.0" x2="678.13" y2="520.0" stroke="#6a3a10" stroke-opacity="0.10" stroke-width="1.12"/>
<line x1="682.49" y1="100.0" x2="681.55" y2="520.0" stroke="#6a3a10" stroke-opacity="0.03" stroke-width="1.22"/>
<line x1="686.42" y1="100.0" x2="685.46" y2="520.0" stroke="#6a3a10" stroke-opacity="0.12" stroke-width="1.11"/>
<line x1="691.32" y1="100.0" x2="690.33" y2="520.0" stroke="#6a3a10" stroke-opacity="0.10" stroke-width="1.21"/>
<line x1="695.56" y1="100.0" x2="694.55" y2="520.0" stroke="#6a3a10" stroke-opacity="0.04" stroke-width="1.06"/>
<line x1="699.36" y1="100.0" x2="698.33" y2="520.0" stroke="#6a3a10" stroke-opacity="0.08" stroke-width="1.22"/>
<line x1="703.41" y1="100.0" x2="702.37" y2="520.0" stroke="#6a3a10" stroke-opacity="0.11" stroke-width="1.21"/>
<line x1="707.62" y1="100.0" x2="706.55" y2="520.0" stroke="#6a3a10" stroke-opacity="0.09" stroke-width="1.25"/>
<line x1="710.26" y1="100.0" x2="709.18" y2="520.0" stroke="#6a3a10" stroke-opacity="0.10" stroke-width="1.15"/>
<line x1="715.02" y1="100.0" x2="713.93" y2="520.0" stroke="#6a3a10" stroke-opacity="0.05" stroke-width="0.82"/>
<line x1="719.48" y1="100.0" x2="718.37" y2="520.0" stroke="#6a3a10" stroke-opacity="0.04" stroke-width="0.98"/>
<line x1="724.18" y1="100.0" x2="723.05" y2="520.0" stroke="#6a3a10" stroke-opacity="0.04" stroke-width="1.22"/>
<line x1="728.69" y1="100.0" x2="727.53" y2="520.0" stroke="#6a3a10" stroke-opacity="0.09" stroke-width="1.11"/>
<line x1="732.18" y1="100.0" x2="731.01" y2="520.0" stroke="#6a3a10" stroke-opacity="0.09" stroke-width="1.14"/>
<line x1="735.69" y1="100.0" x2="734.50" y2="520.0" stroke="#6a3a10" stroke-opacity="0.08" stroke-width="0.80"/>
<line x1="738.46" y1="100.0" x2="737.26" y2="520.0" stroke="#6a3a10" stroke-opacity="0.11" stroke-width="1.17"/>
<line x1="742.56" y1="100.0" x2="741.33" y2="520.0" stroke="#6a3a10" stroke-opacity="0.08" stroke-width="1.07"/>
<line x1="745.22" y1="100.0" x2="743.99" y2="520.0" stroke="#6a3a10" stroke-opacity="0.10" stroke-width="0.83"/>
<line x1="747.90" y1="100.0" x2="746.65" y2="520.0" stroke="#6a3a10" stroke-opacity="0.10" stroke-width="0.93"/>
<line x1="750.93" y1="100.0" x2="749.67" y2="520.0" stroke="#300000" stroke-opacity="0.12" stroke-width="0.93"/>
<line x1="753.26" y1="100.0" x2="751.99" y2="520.0" stroke="#300000" stroke-opacity="0.28" stroke-width="0.90"/>
<line x1="755.94" y1="100.0" x2="754.67" y2="520.0" stroke="#300000" stroke-opacity="0.28" stroke-width="1.29"/>
<line x1="758.05" y1="100.0" x2="756.77" y2="520.0" stroke="#300000" stroke-opacity="0.22" stroke-width="0.99"/>
<line x1="760.06" y1="100.0" x2="758.77" y2="520.0" stroke="#300000" stroke-opacity="0.22" stroke-width="1.14"/>
<line x1="762.36" y1="100.0" x2="761.07" y2="520.0" stroke="#300000" stroke-opacity="0.29" stroke-width="1.11"/>
<line x1="764.57" y1="100.0" x2="763.27" y2="520.0" stroke="#300000" stroke-opacity="0.26" stroke-width="0.84"/>
<line x1="767.31" y1="100.0" x2="765.99" y2="520.0" stroke="#300000" stroke-opacity="0.14" stroke-width="0.93"/>
<line x1="769.36" y1="100.0" x2="768.04" y2="520.0" stroke="#300000" stroke-opacity="0.29" stroke-width="0.95"/>
<line x1="773.12" y1="100.0" x2="771.78" y2="520.0" stroke="#300000" stroke-opacity="0.24" stroke-width="0.81"/>
<line x1="776.35" y1="100.0" x2="775.01" y2="520.0" stroke="#300000" stroke-opacity="0.12" stroke-width="0.93"/>
<line x1="778.65" y1="100.0" x2="777.30" y2="520.0" stroke="#300000" stroke-opacity="0.27" stroke-width="1.15"/>
<line x1="781.16" y1="100.0" x2="779.80" y2="520.0" stroke="#300000" stroke-opacity="0.27" stroke-width="0.95"/>
<line x1="783.87" y1="100.0" x2="782.49" y2="520.0" stroke="#300000" stroke-opacity="0.23" stroke-width="1.03"/>
<line x1="786.60" y1="100.0" x2="785.22" y2="520.0" stroke="#300000" stroke-opacity="0.22" stroke-width="0.86"/>
<line x1="788.85" y1="100.0" x2="787.46" y2="520.0" stroke="#300000" stroke-opacity="0.32" stroke-width="0.90"/>
<line x1="792.56" y1="100.0" x2="791.16" y2="520.0" stroke="#300000" stroke-opacity="0.34" stroke-width="1.27"/>
<line x1="796.55" y1="100.0" x2="795.14" y2="520.0" stroke="#300000" stroke-opacity="0.10" stroke-width="1.03"/>
<line x1="799.49" y1="100.0" x2="798.07" y2="520.0" stroke="#300000" stroke-opacity="0.30" stroke-width="1.28"/>
<line x1="802.46" y1="100.0" x2="801.03" y2="520.0" stroke="#300000" stroke-opacity="0.21" stroke-width="0.93"/>
<line x1="804.64" y1="100.0" x2="803.20" y2="520.0" stroke="#300000" stroke-opacity="0.15" stroke-width="1.27"/>
<line x1="806.85" y1="100.0" x2="805.40" y2="520.0" stroke="#300000" stroke-opacity="0.15" stroke-width="1.09"/>
<line x1="809.54" y1="100.0" x2="808.08" y2="520.0" stroke="#300000" stroke-opacity="0.14" stroke-width="1.06"/>
<line x1="812.07" y1="100.0" x2="810.61" y2="520.0" stroke="#300000" stroke-opacity="0.34" stroke-width="0.87"/>
<line x1="815.74" y1="100.0" x2="814.26" y2="520.0" stroke="#300000" stroke-opacity="0.31" stroke-width="1.05"/>
<line x1="818.07" y1="100.0" x2="816.58" y2="520.0" stroke="#300000" stroke-opacity="0.32" stroke-width="1.15"/>
<line x1="820.12" y1="100.0" x2="818.63" y2="520.0" stroke="#300000" stroke-opacity="0.16" stroke-width="1.25"/>
<line x1="824.03" y1="100.0" x2="822.52" y2="520.0" stroke="#300000" stroke-opacity="0.22" stroke-width="0.81"/>
<line x1="827.09" y1="100.0" x2="825.58" y2="520.0" stroke="#300000" stroke-opacity="0.10" stroke-width="1.05"/>
<line x1="829.39" y1="100.0" x2="827.87" y2="520.0" stroke="#300000" stroke-opacity="0.21" stroke-width="0.95"/>
<line x1="832.48" y1="100.0" x2="830.95" y2="520.0" stroke="#300000" stroke-opacity="0.14" stroke-width="0.97"/>
<line x1="834.54" y1="100.0" x2="833.00" y2="520.0" stroke="#300000" stroke-opacity="0.18" stroke-width="1.22"/>
<line x1="837.60" y1="100.0" x2="836.05" y2="520.0" stroke="#300000" stroke-opacity="0.10" stroke-width="1.18"/>
<line x1="841.57" y1="100.0" x2="840.01" y2="520.0" stroke="#300000" stroke-opacity="0.31" stroke-width="0.86"/>
<line x1="845.30" y1="100.0" x2="843.73" y2="520.0" stroke="#300000" stroke-opacity="0.33" stroke-width="1.16"/>
<line x1="848.70" y1="100.0" x2="847.12" y2="520.0" stroke="#300000" stroke-opacity="0.33" stroke-width="0.94"/>
<line x1="851.23" y1="100.0" x2="849.64" y2="520.0" stroke="#300000" stroke-opacity="0.19" stroke-width="1.00"/>
<line x1="853.97" y1="100.0" x2="852.37" y2="520.0" stroke="#300000" stroke-opacity="0.35" stroke-width="1.09"/>
<line x1="856.31" y1="100.0" x2="854.70" y2="520.0" stroke="#300000" stroke-opacity="0.19" stroke-width="1.01"/>
<line x1="859.86" y1="100.0" x2="858.24" y2="520.0" stroke="#300000" stroke-opacity="0.17" stroke-width="0.82"/>
<line x1="862.93" y1="100.0" x2="861.30" y2="520.0" stroke="#400000" stroke-opacity="0.10" stroke-width="1.22"/>
<line x1="866.50" y1="100.0" x2="864.85" y2="520.0" stroke="#400000" stroke-opacity="0.13" stroke-width="1.27"/>
<line x1="869.16" y1="100.0" x2="867.51" y2="520.0" stroke="#400000" stroke-opacity="0.12" stroke-width="0.93"/>
<line x1="871.62" y1="100.0" x2="869.95" y2="520.0" stroke="#400000" stroke-opacity="0.17" stroke-width="0.89"/>
<line x1="875.25" y1="100.0" x2="873.57" y2="520.0" stroke="#400000" stroke-opacity="0.14" stroke-width="1.28"/>
<line x1="879.23" y1="100.0" x2="877.54" y2="520.0" stroke="#400000" stroke-opacity="0.23" stroke-width="1.21"/>
<line x1="882.94" y1="100.0" x2="881.24" y2="520.0" stroke="#400000" stroke-opacity="0.19" stroke-width="1.26"/>
<line x1="886.56" y1="100.0" x2="884.84" y2="520.0" stroke="#400000" stroke-opacity="0.24" stroke-width="1.07"/>
<line x1="890.20" y1="100.0" x2="888.48" y2="520.0" stroke="#400000" stroke-opacity="0.20" stroke-width="0.82"/>
<line x1="893.69" y1="100.0" x2="891.95" y2="520.0" stroke="#400000" stroke-opacity="0.20" stroke-width="1.03"/>
<line x1="896.15" y1="100.0" x2="894.40" y2="520.0" stroke="#400000" stroke-opacity="0.21" stroke-width="1.12"/>
<line x1="899.19" y1="100.0" x2="897.43" y2="520.0" stroke="#400000" stroke-opacity="0.13" stroke-width="0.82"/>
<line x1="901.91" y1="100.0" x2="900.14" y2="520.0" stroke="#400000" stroke-opacity="0.24" stroke-width="0.86"/>
<line x1="905.49" y1="100.0" x2="903.71" y2="520.0" stroke="#400000" stroke-opacity="0.16" stroke-width="0.97"/>
<line x1="909.07" y1="100.0" x2="907.28" y2="520.0" stroke="#400000" stroke-opacity="0.13" stroke-width="1.17"/>
<line x1="913.27" y1="100.0" x2="911.47" y2="520.0" stroke="#400000" stroke-opacity="0.25" stroke-width="0.93"/>
<line x1="917.43" y1="100.0" x2="915.61" y2="520.0" stroke="#400000" stroke-opacity="0.19" stroke-width="0.95"/>
<line x1="922.67" y1="100.0" x2="920.84" y2="520.0" stroke="#400000" stroke-opacity="0.17" stroke-width="1.00"/>
<line x1="928.58" y1="100.0" x2="926.72" y2="520.0" stroke="#400000" stroke-opacity="0.11" stroke-width="0.88"/>
<line x1="933.21" y1="100.0" x2="931.33" y2="520.0" stroke="#400000" stroke-opacity="0.12" stroke-width="1.25"/>
<line x1="939.06" y1="100.0" x2="937.17" y2="520.0" stroke="#400000" stroke-opacity="0.16" stroke-width="0.91"/>
<line x1="945.04" y1="100.0" x2="943.13" y2="520.0" stroke="#400000" stroke-opacity="0.23" stroke-width="1.30"/>
<line x1="950.94" y1="100.0" x2="949.01" y2="520.0" stroke="#400000" stroke-opacity="0.16" stroke-width="0.87"/>
<line x1="955.36" y1="100.0" x2="953.42" y2="520.0" stroke="#400000" stroke-opacity="0.11" stroke-width="0.85"/>
<line x1="959.42" y1="100.0" x2="957.47" y2="520.0" stroke="#400000" stroke-opacity="0.14" stroke-width="0.85"/>
<line x1="963.50" y1="100.0" x2="961.53" y2="520.0" stroke="#400000" stroke-opacity="0.12" stroke-width="0.93"/>
<line x1="967.50" y1="100.0" x2="965.51" y2="520.0" stroke="#400000" stroke-opacity="0.18" stroke-width="1.24"/>
<line x1="971.52" y1="100.0" x2="969.52" y2="520.0" stroke="#400000" stroke-opacity="0.21" stroke-width="1.01"/>
<line x1="976.59" y1="100.0" x2="974.57" y2="520.0" stroke="#400000" stroke-opacity="0.15" stroke-width="1.06"/>
<line x1="47.11" y1="100.0" x2="64.05" y2="520.0" stroke="#6a5a20" stroke-opacity="0.15" stroke-width="0.97"/>
<line x1="59.45" y1="100.0" x2="75.86" y2="520.0" stroke="#6a5a20" stroke-opacity="0.11" stroke-width="0.94"/>
<line x1="73.84" y1="100.0" x2="89.64" y2="520.0" stroke="#6a5a20" stroke-opacity="0.24" stroke-width="0.86"/>
<line x1="87.21" y1="100.0" x2="102.44" y2="520.0" stroke="#6a5a20" stroke-opacity="0.17" stroke-width="1.11"/>
<line x1="100.58" y1="100.0" x2="115.23" y2="520.0" stroke="#6a5a20" stroke-opacity="0.22" stroke-width="0.91"/>
<line x1="157.15" y1="100.0" x2="169.36" y2="520.0" stroke="#6a5a20" stroke-opacity="0.14" stroke-width="0.92"/>
<line x1="174.63" y1="100.0" x2="186.09" y2="520.0" stroke="#6a5a20" stroke-opacity="0.16" stroke-width="1.02"/>
<line x1="198.29" y1="100.0" x2="208.73" y2="520.0" stroke="#6a5a20" stroke-opacity="0.23" stroke-width="1.22"/>
<line x1="204.46" y1="100.0" x2="214.63" y2="520.0" stroke="#6a5a20" stroke-opacity="0.22" stroke-width="0.81"/>
<line x1="211.14" y1="100.0" x2="221.03" y2="520.0" stroke="#6a5a20" stroke-opacity="0.10" stroke-width="1.15"/>
<line x1="231.61" y1="100.0" x2="240.77" y2="520.0" stroke="#6a5a20" stroke-opacity="0.23" stroke-width="1.04"/>
<line x1="244.40" y1="100.0" x2="253.11" y2="520.0" stroke="#6a5a20" stroke-opacity="0.18" stroke-width="0.80"/>
<line x1="254.64" y1="100.0" x2="262.98" y2="520.0" stroke="#6a5a20" stroke-opacity="0.15" stroke-width="1.26"/>
<line x1="265.38" y1="100.0" x2="273.35" y2="520.0" stroke="#5a4a10" stroke-opacity="0.20" stroke-width="1.23"/>
<line x1="277.59" y1="100.0" x2="285.23" y2="520.0" stroke="#5a4a10" stroke-opacity="0.22" stroke-width="0.92"/>
<line x1="292.86" y1="100.0" x2="300.08" y2="520.0" stroke="#5a4a10" stroke-opacity="0.10" stroke-width="0.88"/>
<line x1="300.49" y1="100.0" x2="307.51" y2="520.0" stroke="#5a4a10" stroke-opacity="0.15" stroke-width="1.14"/>
<line x1="311.68" y1="100.0" x2="318.40" y2="520.0" stroke="#5a4a10" stroke-opacity="0.21" stroke-width="1.16"/>
<line x1="318.30" y1="100.0" x2="324.83" y2="520.0" stroke="#5a4a10" stroke-opacity="0.17" stroke-width="1.18"/>
<line x1="326.95" y1="100.0" x2="333.25" y2="520.0" stroke="#5a4a10" stroke-opacity="0.14" stroke-width="1.08"/>
<line x1="341.20" y1="100.0" x2="347.11" y2="520.0" stroke="#5a4a10" stroke-opacity="0.09" stroke-width="1.19"/>
<line x1="348.83" y1="100.0" x2="354.54" y2="520.0" stroke="#5a4a10" stroke-opacity="0.11" stroke-width="1.26"/>
<line x1="359.01" y1="100.0" x2="364.44" y2="520.0" stroke="#5a4a10" stroke-opacity="0.17" stroke-width="0.95"/>
<line x1="371.73" y1="100.0" x2="376.82" y2="520.0" stroke="#5a4a10" stroke-opacity="0.10" stroke-width="0.93"/>
<line x1="379.36" y1="100.0" x2="384.24" y2="520.0" stroke="#5a4a10" stroke-opacity="0.17" stroke-width="1.15"/>
<line x1="389.54" y1="100.0" x2="394.14" y2="520.0" stroke="#5a4a10" stroke-opacity="0.10" stroke-width="0.84"/>
<line x1="397.18" y1="100.0" x2="401.57" y2="520.0" stroke="#5a4a10" stroke-opacity="0.15" stroke-width="1.09"/>
<line x1="407.36" y1="100.0" x2="411.47" y2="520.0" stroke="#7a5a20" stroke-opacity="0.18" stroke-width="0.91"/>
<line x1="448.10" y1="100.0" x2="451.06" y2="520.0" stroke="#7a5a20" stroke-opacity="0.22" stroke-width="0.81"/>
<line x1="460.83" y1="100.0" x2="463.43" y2="520.0" stroke="#7a5a20" stroke-opacity="0.17" stroke-width="1.03"/>
<line x1="494.94" y1="100.0" x2="496.59" y2="520.0" stroke="#7a5a20" stroke-opacity="0.27" stroke-width="1.12"/>
<line x1="515.31" y1="100.0" x2="516.38" y2="520.0" stroke="#7a5a20" stroke-opacity="0.26" stroke-width="1.04"/>
<line x1="529.57" y1="100.0" x2="530.24" y2="520.0" stroke="#7a5a20" stroke-opacity="0.16" stroke-width="0.92"/>
<line x1="545.87" y1="100.0" x2="546.08" y2="520.0" stroke="#7a5a20" stroke-opacity="0.27" stroke-width="1.15"/>
<line x1="554.01" y1="100.0" x2="553.99" y2="520.0" stroke="#7a5a20" stroke-opacity="0.17" stroke-width="0.81"/>
<line x1="568.77" y1="100.0" x2="568.35" y2="520.0" stroke="#7a5a20" stroke-opacity="0.20" stroke-width="1.14"/>
<line x1="577.80" y1="100.0" x2="577.33" y2="520.0" stroke="#7a5a20" stroke-opacity="0.19" stroke-width="0.93"/>
<line x1="579.30" y1="100.0" x2="578.83" y2="520.0" stroke="#6a3a10" stroke-opacity="0.10" stroke-width="1.26"/>
<line x1="581.81" y1="100.0" x2="581.33" y2="520.0" stroke="#6a3a10" stroke-opacity="0.05" stroke-width="0.82"/>
<line x1="584.32" y1="100.0" x2="583.82" y2="520.0" stroke="#6a3a10" stroke-opacity="0.06" stroke-width="1.01"/>
<line x1="588.83" y1="100.0" x2="588.32" y2="520.0" stroke="#6a3a10" stroke-opacity="0.10" stroke-width="0.90"/>
<line x1="603.37" y1="100.0" x2="602.79" y2="520.0" stroke="#6a3a10" stroke-opacity="0.11" stroke-width="1.17"/>
<line x1="615.41" y1="100.0" x2="614.77" y2="520.0" stroke="#6a3a10" stroke-opacity="0.08" stroke-width="0.90"/>
<line x1="621.43" y1="100.0" x2="620.76" y2="520.0" stroke="#6a3a10" stroke-opacity="0.13" stroke-width="0.96"/>
<line x1="631.46" y1="100.0" x2="630.75" y2="520.0" stroke="#6a3a10" stroke-opacity="0.11" stroke-width="0.92"/>
<line x1="641.49" y1="100.0" x2="640.73" y2="520.0" stroke="#6a3a10" stroke-opacity="0.05" stroke-width="1.18"/>
<line x1="648.01" y1="100.0" x2="647.22" y2="520.0" stroke="#6a3a10" stroke-opacity="0.06" stroke-width="1.28"/>
<line x1="663.05" y1="100.0" x2="662.19" y2="520.0" stroke="#6a3a10" stroke-opacity="0.08" stroke-width="0.89"/>
<line x1="671.58" y1="100.0" x2="670.68" y2="520.0" stroke="#6a3a10" stroke-opacity="0.05" stroke-width="1.01"/>
<line x1="676.59" y1="100.0" x2="675.67" y2="520.0" stroke="#6a3a10" stroke-opacity="0.10" stroke-width="1.27"/>
<line x1="682.61" y1="100.0" x2="681.66" y2="520.0" stroke="#6a3a10" stroke-opacity="0.04" stroke-width="1.00"/>
<line x1="690.13" y1="100.0" x2="689.15" y2="520.0" stroke="#6a3a10" stroke-opacity="0.05" stroke-width="1.29"/>
<line x1="694.14" y1="100.0" x2="693.14" y2="520.0" stroke="#6a3a10" stroke-opacity="0.04" stroke-width="0.83"/>
<line x1="698.66" y1="100.0" x2="697.64" y2="520.0" stroke="#6a3a10" stroke-opacity="0.04" stroke-width="1.00"/>
<line x1="710.69" y1="100.0" x2="709.62" y2="520.0" stroke="#6a3a10" stroke-opacity="0.12" stroke-width="1.24"/>
<line x1="726.74" y1="100.0" x2="725.59" y2="520.0" stroke="#6a3a10" stroke-opacity="0.10" stroke-width="1.30"/>
<line x1="734.26" y1="100.0" x2="733.08" y2="520.0" stroke="#6a3a10" stroke-opacity="0.12" stroke-width="0.96"/>
<line x1="738.27" y1="100.0" x2="737.07" y2="520.0" stroke="#6a3a10" stroke-opacity="0.05" stroke-width="1.27"/>
<line x1="741.78" y1="100.0" x2="740.56" y2="520.0" stroke="#6a3a10" stroke-opacity="0.10" stroke-width="0.82"/>
<line x1="749.31" y1="100.0" x2="748.05" y2="520.0" stroke="#6a3a10" stroke-opacity="0.10" stroke-width="0.99"/>
<line x1="760.83" y1="100.0" x2="759.54" y2="520.0" stroke="#300000" stroke-opacity="0.19" stroke-width="0.97"/>
<line x1="785.89" y1="100.0" x2="784.51" y2="520.0" stroke="#300000" stroke-opacity="0.14" stroke-width="0.80"/>
<line x1="795.91" y1="100.0" x2="794.50" y2="520.0" stroke="#300000" stroke-opacity="0.17" stroke-width="0.98"/>
<line x1="808.43" y1="100.0" x2="806.98" y2="520.0" stroke="#300000" stroke-opacity="0.34" stroke-width="0.86"/>
<line x1="818.96" y1="100.0" x2="817.47" y2="520.0" stroke="#300000" stroke-opacity="0.34" stroke-width="0.90"/>
<line x1="827.98" y1="100.0" x2="826.46" y2="520.0" stroke="#300000" stroke-opacity="0.19" stroke-width="1.21"/>
<line x1="833.99" y1="100.0" x2="832.45" y2="520.0" stroke="#300000" stroke-opacity="0.31" stroke-width="1.02"/>
<line x1="841.00" y1="100.0" x2="839.44" y2="520.0" stroke="#300000" stroke-opacity="0.11" stroke-width="1.04"/>
<line x1="851.03" y1="100.0" x2="849.43" y2="520.0" stroke="#300000" stroke-opacity="0.19" stroke-width="1.26"/>
<line x1="860.05" y1="100.0" x2="858.42" y2="520.0" stroke="#300000" stroke-opacity="0.15" stroke-width="0.98"/>
<line x1="865.06" y1="100.0" x2="863.41" y2="520.0" stroke="#400000" stroke-opacity="0.23" stroke-width="0.82"/>
<line x1="873.57" y1="100.0" x2="871.90" y2="520.0" stroke="#400000" stroke-opacity="0.15" stroke-width="1.21"/>
<line x1="883.60" y1="100.0" x2="881.89" y2="520.0" stroke="#400000" stroke-opacity="0.21" stroke-width="0.82"/>
<line x1="894.87" y1="100.0" x2="893.13" y2="520.0" stroke="#400000" stroke-opacity="0.09" stroke-width="0.83"/>
<line x1="908.65" y1="100.0" x2="906.86" y2="520.0" stroke="#400000" stroke-opacity="0.24" stroke-width="0.93"/>
<line x1="913.66" y1="100.0" x2="911.86" y2="520.0" stroke="#400000" stroke-opacity="0.21" stroke-width="1.25"/>
<line x1="922.68" y1="100.0" x2="920.84" y2="520.0" stroke="#400000" stroke-opacity="0.14" stroke-width="0.94"/>
<line x1="925.19" y1="100.0" x2="923.34" y2="520.0" stroke="#400000" stroke-opacity="0.24" stroke-width="1.11"/>
<line x1="929.70" y1="100.0" x2="927.84" y2="520.0" stroke="#400000" stroke-opacity="0.12" stroke-width="1.16"/>
<line x1="937.71" y1="100.0" x2="935.83" y2="520.0" stroke="#400000" stroke-opacity="0.13" stroke-width="0.94"/>
<line x1="943.73" y1="100.0" x2="941.82" y2="520.0" stroke="#400000" stroke-opacity="0.08" stroke-width="1.18"/>
<line x1="950.24" y1="100.0" x2="948.31" y2="520.0" stroke="#400000" stroke-opacity="0.24" stroke-width="1.12"/>
<line x1="961.51" y1="100.0" x2="959.55" y2="520.0" stroke="#400000" stroke-opacity="0.24" stroke-width="0.81"/>
</g>
</defs>
<rect width="1024" height="512" fill="#fff"/>
<g clip-path="url(#cr)"><g mask="url(#mk)"><use href="#bands"/></g></g>
<g stroke="#c8c8d0" stroke-width="1.25" fill="none" stroke-linecap="butt">
<line x1="1016" y1="479.75" x2="1024" y2="469"/>
<line x1="910" y1="396.9" x2="1024" y2="403"/>
<line x1="272.25" y1="430.5" x2="343.5" y2="397.5"/>
<line x1="627" y1="453.75" x2="668.25" y2="425"/>
<polyline points="0.00,360.30 14.40,357.70 0.00,365.00" fill="none" stroke="#c3c3c3" stroke-width="1.9" stroke-linejoin="miter"/>
<polyline points="0.00,371.00 29.70,361.00" fill="none" stroke="#c3c3c3" stroke-width="1.9" stroke-linejoin="miter"/>
<polyline points="29.70,365.00 18.00,375.00 29.70,372.80" fill="none" stroke="#c3c3c3" stroke-width="1.9" stroke-linejoin="miter"/>
<polyline points="0.00,390.80 29.70,380.30" fill="none" stroke="#c3c3c3" stroke-width="1.9" stroke-linejoin="miter"/>
<polygon points="0,411.7 1016,479.25 1016,480.25 0,413.3" fill="#c6c6ca" stroke="none"/>
</g>
<g clip-path="url(#cp)"><use href="#bands"/>
<polygon points="580.9,246.3 582.2,245.2 582.9,245.6 582.9,254.6 581.5,254 580.2,253.1 579.5,250.5 580,248" fill="#b2ba62"/>
</g>
<line x1="20" y1="123.25" x2="32" y2="400.5" stroke="#cfcf30" stroke-width="0.9"/>
<polyline points="20.00,123.25 74.00,131.00 128.00,139.25 180.00,149.00 226.25,158.00 256.00,164.50 314.75,178.75 338.50,189.25 379.75,208.75 398.50,219.25 404.00,221.00 431.00,223.80 448.00,225.30 485.50,229.20 523.00,236.60 548.00,241.20 568.60,243.10 578.00,243.60 581.00,244.20 582.20,245.20 581.20,246.20 580.00,248.00 579.50,250.50 580.20,253.10 581.50,254.00 583.00,254.60 588.60,256.00 603.00,259.40 612.00,261.25 640.00,272.00 656.50,277.50 682.50,287.00 707.50,292.50 735.00,297.30 747.50,301.40 762.00,308.00 782.40,317.50 796.00,326.90 815.00,339.80 832.20,352.70 849.40,363.90 860.00,373.10 872.50,379.40 885.00,386.90 897.50,393.10 910.00,398.75 922.50,403.10 931.25,405.00 947.50,408.10 960.00,410.25 972.50,411.90 977.00,412.40" fill="none" stroke="#636366" stroke-width="1.3" stroke-linejoin="round"/>
<line x1="126.3" y1="92" x2="127.7" y2="139" stroke="#bdbdbd" stroke-width="1"/>
<g transform="translate(126.5,79.5) scale(0.93,1)"><text x="0" y="0" class="lab">6.8%</text><text x="0" y="10.3" class="lab">82ft</text></g>
<line x1="226.3" y1="112" x2="226.8" y2="158" stroke="#bdbdbd" stroke-width="1"/>
<g transform="translate(226.5,99) scale(0.93,1)"><text x="0" y="0" class="lab">9.6%</text><text x="0" y="10.3" class="lab">69ft</text></g>
<line x1="337" y1="142" x2="338.5" y2="188.75" stroke="#bdbdbd" stroke-width="1"/>
<g transform="translate(337.5,129.5) scale(0.93,1)"><text x="0" y="0" class="lab">10.0%</text><text x="0" y="10.3" class="lab">20ft</text></g>
<line x1="379" y1="161.25" x2="380" y2="208.75" stroke="#bdbdbd" stroke-width="1"/>
<g transform="translate(379.6,149.5) scale(0.93,1)"><text x="0" y="0" class="lab">9.7%</text><text x="0" y="10.3" class="lab">30ft</text></g>
<line x1="523" y1="188.75" x2="523" y2="235.75" stroke="#bdbdbd" stroke-width="1"/>
<g transform="translate(523.4,176.25) scale(0.93,1)"><text x="0" y="0" class="lab">6.4%</text><text x="0" y="10.3" class="lab">62ft</text></g>
<line x1="656.75" y1="229.5" x2="656.75" y2="277" stroke="#bdbdbd" stroke-width="1"/>
<g transform="translate(656.75,217) scale(0.93,1)"><text x="0" y="0" class="lab">12.9%</text><text x="0" y="10.3" class="lab">52ft</text></g>
<line x1="708" y1="244.25" x2="708" y2="292" stroke="#bdbdbd" stroke-width="1"/>
<g transform="translate(708,231.75) scale(0.93,1)"><text x="0" y="0" class="lab">6.9%</text><text x="0" y="10.3" class="lab">121ft</text></g>
<line x1="762.5" y1="261.75" x2="762.5" y2="308" stroke="#bdbdbd" stroke-width="1"/>
<g transform="translate(763,248.75) scale(0.93,1)"><text x="0" y="0" class="lab">16.9%</text><text x="0" y="10.3" class="lab">23ft</text></g>
<line x1="815.75" y1="293.75" x2="815" y2="340" stroke="#bdbdbd" stroke-width="1"/>
<g transform="translate(816,281.25) scale(0.93,1)"><text x="0" y="0" class="lab">23.7%</text><text x="0" y="10.3" class="lab">13ft</text></g>
<line x1="873.5" y1="333.25" x2="873" y2="379.5" stroke="#bdbdbd" stroke-width="1"/>
<g transform="translate(874,320.75) scale(0.93,1)"><text x="0" y="0" class="lab">17.5%</text><text x="0" y="10.3" class="lab">23ft</text></g>
<line x1="932.25" y1="358.25" x2="931" y2="405" stroke="#bdbdbd" stroke-width="1"/>
<g transform="translate(932,345.75) scale(0.93,1)"><text x="0" y="0" class="lab">8.4%</text><text x="0" y="10.3" class="lab">62ft</text></g>
<rect x="1002" y="375" width="13" height="127.8" fill="url(#lg)"/>
<text x="995.6" y="379" class="leg">25%</text>
<text x="995.6" y="417.3" class="leg">10%</text>
<text x="995.6" y="442.6" class="leg">0%</text>
<text x="995.6" y="467.5" class="leg">-10%</text>
<text x="995.6" y="506.6" class="leg">(Grid: 0.5 mi) -25%</text>
<text x="12.7" y="27.5" font-size="25" fill="#111" textLength="186" lengthAdjust="spacing">Bredwardine Hill</text>
<text x="1011.5" y="25" font-size="18.7" fill="#111" text-anchor="end">1.6 mi at 8.5%</text>
<g transform="scale(1.07,1.045)"><text y="481.34" font-size="61" font-weight="bold" stroke-width="1.6" stroke-linejoin="round"><tspan x="5.14 29.81 59.53 71.87" fill="#000" stroke="#000">velo</tspan><tspan x="105.61 130.56 144.11 175.51 217.94 245.42" fill="#f5123b" stroke="#f5123b">viewer</tspan></text></g>
<text x="305.6" y="476.8" font-size="10" font-weight="bold" fill="#1a1a1a" textLength="68.4" lengthAdjust="spacing">POWERED BY</text>
<text x="305.3" y="502.6" font-size="27" font-weight="bold" fill="#fc4c02" stroke="#fc4c02" stroke-width="1.5" stroke-linejoin="miter" textLength="102.6" lengthAdjust="spacingAndGlyphs">STRAVA</text>
</svg>
</body></html>
